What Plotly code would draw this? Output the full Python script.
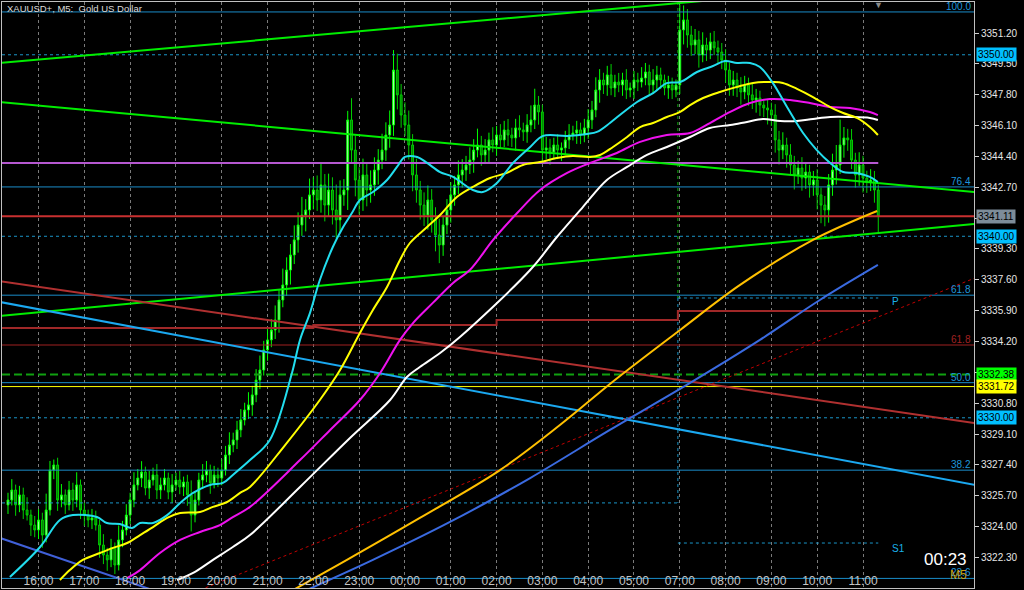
import plotly.graph_objects as go

# ---------------- data ----------------
hour_bars = [8, 20, 32, 44, 56, 68, 80, 92, 104, 116, 128, 140, 152, 164, 176, 188, 200, 212, 224]
hour_labels = ["16:00", "17:00", "18:00", "19:00", "20:00", "21:00", "22:00", "23:00", "00:00",
               "01:00", "02:00", "03:00", "04:00", "05:00", "07:00", "08:00", "09:00", "10:00", "11:00"]

price_ticks = [3351.20, 3349.50, 3347.80, 3346.10, 3344.40, 3342.70, 3341.00, 3339.30, 3337.60,
               3335.90, 3334.20, 3332.50, 3330.80, 3329.10, 3327.40, 3325.70, 3324.00, 3322.30]
hidden_ticks = [3341.00, 3332.50]  # covered by price boxes in the reference

first_open = 3325.20
close = [
    3325.47, 3326.02, 3325.20, 3325.75, 3324.92, 3324.64, 3324.09, 3323.82, 3324.37, 3323.54,
    3324.92, 3327.12, 3327.40, 3325.47, 3325.75, 3325.20, 3326.02, 3325.47, 3326.30, 3324.92,
    3324.64, 3324.37, 3324.48, 3324.09, 3322.99, 3322.44, 3322.17, 3322.83, 3321.89, 3323.27,
    3323.82, 3324.64, 3325.47, 3326.30, 3326.68, 3327.01, 3326.13, 3326.57, 3326.85, 3326.02,
    3326.30, 3326.68, 3325.91, 3326.30, 3326.57, 3326.19, 3326.46, 3325.75, 3324.64, 3325.47,
    3326.57, 3326.85, 3327.12, 3326.41, 3326.85, 3326.68, 3327.12, 3327.95, 3328.50, 3328.78,
    3329.33, 3329.88, 3330.43, 3330.71, 3331.26, 3332.08, 3332.63, 3333.74, 3334.29, 3334.84,
    3335.39, 3336.49, 3337.32, 3338.14, 3338.97, 3339.80, 3340.62, 3341.17, 3341.45, 3342.28,
    3342.55, 3342.00, 3342.83, 3341.72, 3342.55, 3341.45, 3340.90, 3342.28, 3342.55, 3346.41,
    3344.75, 3343.10, 3342.00, 3343.38, 3342.55, 3342.83, 3343.65, 3344.20, 3344.75, 3345.58,
    3346.13, 3349.16, 3347.79, 3346.68, 3346.13, 3345.03, 3343.38, 3342.55, 3341.72, 3341.17,
    3342.00, 3340.90, 3340.07, 3339.52, 3340.62, 3341.45, 3342.28, 3342.83, 3343.38, 3343.65,
    3343.93, 3344.20, 3344.75, 3345.03, 3344.48, 3344.75, 3345.31, 3345.03, 3345.58, 3345.31,
    3345.86, 3345.58, 3345.42, 3345.97, 3345.86, 3345.75, 3346.13, 3346.41, 3347.23, 3346.85,
    3344.75, 3344.87, 3344.64, 3345.03, 3344.75, 3344.87, 3345.31, 3345.58, 3345.69, 3345.86,
    3345.58, 3345.97, 3346.41, 3346.96, 3348.06, 3348.61, 3348.34, 3348.89, 3348.17, 3348.50,
    3348.34, 3348.61, 3348.06, 3348.17, 3348.61, 3348.50, 3348.72, 3349.05, 3348.34, 3348.61,
    3348.89, 3348.61, 3348.17, 3348.34, 3348.06, 3348.34, 3351.37, 3351.92, 3351.09, 3350.54,
    3350.82, 3349.99, 3350.54, 3350.26, 3350.71, 3350.38, 3350.15, 3349.71, 3349.16, 3348.34,
    3348.61, 3348.17, 3347.95, 3348.34, 3347.79, 3347.51, 3347.62, 3347.23, 3347.07, 3346.96,
    3346.68, 3345.31, 3344.75, 3345.03, 3344.48, 3343.93, 3343.38, 3343.76, 3343.21, 3343.54,
    3342.83, 3343.10, 3342.28, 3341.72, 3341.45, 3342.83, 3343.65, 3343.93, 3345.03, 3345.42,
    3345.31, 3344.20, 3343.38, 3343.93, 3343.21, 3342.99, 3343.10, 3342.55, 3341.11,
]
wick_up = [
    0.4, 0.6, 0.3, 0.5, 0.4, 0.7, 0.3, 0.5, 0.6, 0.4,
    0.9, 0.5, 0.3, 0.4, 0.6, 0.3, 0.5, 0.4, 0.7, 0.3,
    0.4, 0.3, 0.5, 0.4, 0.3, 0.6, 0.4, 0.5, 0.3, 0.8,
    0.5, 0.6, 0.4, 0.7, 0.5, 0.6, 0.3, 0.5, 0.4, 0.6,
    0.4, 0.5, 0.3, 0.6, 0.4, 0.5, 0.3, 0.4, 0.8, 0.5,
    0.4, 0.6, 0.5, 0.3, 0.5, 0.4, 0.6, 0.5, 0.7, 0.4,
    0.5, 0.6, 0.4, 0.7, 0.5, 0.6, 0.8, 0.5, 0.7, 0.6,
    0.8, 0.6, 0.9, 0.7, 0.6, 0.8, 0.7, 1.0, 0.6, 0.9,
    0.7, 0.8, 1.2, 0.6, 0.9, 0.7, 1.4, 0.8, 0.6, 0.5,
    1.2, 0.8, 0.7, 0.9, 0.6, 0.8, 0.7, 0.6, 0.9, 0.7,
    0.8, 1.1, 0.9, 0.6, 0.7, 0.8, 0.6, 0.9, 0.5, 0.7,
    0.8, 0.6, 0.7, 0.9, 0.5, 0.6, 0.7, 0.5, 0.8, 0.6,
    0.5, 0.7, 0.6, 0.9, 0.5, 0.6, 0.4, 0.7, 0.5, 0.6,
    0.5, 0.6, 0.4, 0.5, 0.7, 0.4, 0.6, 0.8, 0.9, 0.5,
    0.4, 0.6, 0.5, 0.4, 0.6, 0.3, 0.5, 0.6, 0.4, 0.5,
    0.4, 0.5, 0.6, 0.5, 0.7, 0.6, 0.4, 0.5, 0.6, 0.4,
    0.5, 0.4, 0.6, 0.3, 0.5, 0.4, 0.6, 0.5, 0.4, 0.6,
    0.5, 0.4, 0.3, 0.5, 0.4, 0.3, 1.4, 0.8, 0.6, 0.5,
    0.6, 0.5, 0.7, 0.4, 0.5, 0.6, 0.4, 0.5, 0.6, 0.4,
    0.5, 0.4, 0.6, 0.5, 0.4, 0.6, 0.5, 0.4, 0.3, 0.5,
    0.4, 0.6, 0.5, 0.7, 0.4, 0.6, 0.5, 0.4, 0.6, 0.5,
    0.4, 0.5, 0.6, 0.4, 0.5, 0.6, 0.9, 1.1, 1.4, 0.6,
    0.5, 0.6, 0.4, 0.7, 0.5, 0.4, 0.6, 0.5, 0.3,
]
wick_dn = [
    0.5, 0.3, 0.6, 0.4, 0.5, 0.3, 0.6, 0.4, 0.5, 0.7,
    0.4, 0.3, 0.5, 0.6, 0.4, 0.5, 0.3, 0.6, 0.4, 0.5,
    0.6, 0.4, 0.5, 0.3, 0.7, 0.5, 0.6, 0.4, 0.5, 0.3,
    0.4, 0.3, 0.5, 0.4, 0.3, 0.5, 0.4, 0.6, 0.3, 0.5,
    0.5, 0.3, 0.4, 0.6, 0.3, 0.4, 0.5, 0.6, 0.9, 0.4,
    0.3, 0.5, 0.4, 0.6, 0.3, 0.5, 0.4, 0.3, 0.5, 0.4,
    0.5, 0.4, 0.3, 0.5, 0.6, 0.4, 0.5, 0.3, 0.6, 0.4,
    0.5, 0.7, 0.4, 0.6, 0.8, 0.5, 0.7, 0.6, 0.9, 0.5,
    0.8, 0.6, 0.7, 0.9, 0.6, 0.8, 1.0, 0.7, 0.6, 1.1,
    0.7, 0.9, 0.8, 0.6, 0.9, 0.7, 0.6, 0.8, 0.5, 0.6,
    0.7, 0.6, 0.8, 0.7, 0.6, 0.8, 0.9, 0.7, 0.8, 0.6,
    0.8, 0.7, 0.9, 1.0, 0.6, 0.5, 0.7, 0.6, 0.5, 0.7,
    0.6, 0.5, 0.7, 0.4, 0.6, 0.5, 0.7, 0.4, 0.6, 0.5,
    0.4, 0.6, 0.5, 0.7, 0.4, 0.5, 0.6, 0.4, 0.5, 0.7,
    0.6, 0.5, 0.7, 0.4, 0.5, 0.6, 0.4, 0.5, 0.3, 0.6,
    0.5, 0.4, 0.6, 0.5, 0.4, 0.7, 0.5, 0.6, 0.4, 0.5,
    0.4, 0.6, 0.5, 0.4, 0.6, 0.5, 0.3, 0.4, 0.6, 0.5,
    0.6, 0.5, 0.4, 0.6, 0.5, 0.4, 0.5, 0.8, 0.7, 0.6,
    0.5, 0.7, 0.4, 0.6, 0.5, 0.4, 0.6, 0.5, 0.7, 0.6,
    0.6, 0.5, 0.7, 0.4, 0.6, 0.5, 0.7, 0.6, 0.5, 0.8,
    0.6, 0.7, 0.8, 0.5, 0.7, 0.6, 0.8, 0.5, 0.7, 0.6,
    0.7, 0.6, 0.8, 1.0, 0.9, 0.7, 0.6, 0.8, 0.5, 0.7,
    0.6, 0.5, 0.7, 0.6, 0.8, 0.6, 0.5, 0.7, 0.9,
]

# moving averages (bar index, price)
ma_cyan_bar = [0.5, 8.4, 13.6, 17.0, 23.3, 25.9, 29.3, 32.5, 34.6, 38.0, 41.7, 45.1, 48.5, 52.9, 56.3,
               58.9, 63.4, 68.6, 74.4, 76.5, 79.1, 81.7, 85.1, 87.8, 90.1, 92.2, 95.6, 99.3, 101.9,
               104.0, 107.2, 109.8, 113.2, 116.6, 121.8, 124.4, 128.1, 132.3, 136.8, 140.2, 146.5,
               151.7, 154.3, 157.7, 160.3, 164.8, 169.0, 172.6, 176.1, 180.5, 184.7, 187.8, 191.0,
               194.4, 197.0, 200.4, 204.1, 208.3, 211.9, 215.4, 218.8, 222.4, 225.8, 227.9]
ma_cyan_val = [3321.23, 3322.88, 3324.37, 3324.64, 3324.53, 3324.20, 3324.15, 3323.93, 3324.20, 3324.20,
               3324.64, 3325.31, 3325.86, 3326.30, 3326.41, 3326.85, 3327.67, 3328.78, 3332.47, 3334.29,
               3335.77, 3337.59, 3339.41, 3340.51, 3341.28, 3342.00, 3342.44, 3343.10, 3343.82, 3344.37,
               3344.37, 3344.04, 3343.54, 3343.27, 3342.55, 3342.44, 3342.94, 3344.04, 3344.92, 3345.53,
               3345.53, 3345.64, 3345.75, 3346.24, 3346.68, 3347.40, 3347.89, 3348.44, 3348.50, 3349.05,
               3349.38, 3349.66, 3349.55, 3349.55, 3349.33, 3348.44, 3347.12, 3345.69, 3344.75, 3344.04,
               3343.54, 3343.49, 3343.27, 3342.99]

ma_yellow_bar = [13.6, 16.2, 19.6, 24.1, 27.5, 31.2, 34.6, 38.0, 41.7, 45.1, 50.3, 53.7, 57.4, 60.8, 63.4,
                 72.6, 81.7, 87.0, 92.2, 95.6, 99.3, 102.7, 105.3, 109.8, 113.2, 117.6, 121.8, 126.3,
                 130.7, 134.9, 139.4, 143.8, 148.0, 152.5, 155.1, 158.5, 162.2, 165.6, 169.0, 172.6,
                 176.1, 178.7, 182.1, 186.5, 191.0, 195.2, 200.4, 203.0, 206.7, 210.9, 215.4, 218.8,
                 222.4, 225.8, 227.9]
ma_yellow_val = [3321.06, 3321.61, 3322.17, 3322.55, 3322.83, 3323.10, 3323.54, 3323.98, 3324.48, 3324.75,
                 3324.81, 3325.09, 3325.36, 3325.86, 3326.19, 3328.50, 3330.98, 3332.63, 3334.67, 3335.94,
                 3337.21, 3338.69, 3339.63, 3340.51, 3341.17, 3342.17, 3342.72, 3343.21, 3343.49, 3343.93,
                 3344.09, 3344.31, 3344.42, 3344.37, 3344.48, 3344.92, 3345.47, 3346.02, 3346.24, 3346.57,
                 3346.85, 3347.23, 3347.62, 3347.95, 3348.23, 3348.45, 3348.50, 3348.45, 3348.12, 3347.67,
                 3347.12, 3346.79, 3346.52, 3346.02, 3345.58]

ma_magenta_bar = [31.2, 34.6, 39.8, 45.1, 50.3, 55.5, 58.9, 63.4, 76.5, 84.4, 92.2, 97.5, 102.7, 106.1,
                  111.3, 116.6, 121.0, 127.1, 133.4, 139.4, 146.5, 152.5, 159.5, 165.6, 172.6, 178.7,
                  183.9, 189.2, 194.4, 199.6, 204.9, 210.1, 215.4, 220.6, 225.8, 227.9]
ma_magenta_val = [3321.17, 3321.61, 3322.55, 3323.27, 3323.71, 3324.09, 3324.53, 3325.09, 3327.67, 3329.33,
                  3330.98, 3332.47, 3334.29, 3335.22, 3336.33, 3337.43, 3338.14, 3339.80, 3341.28, 3342.55,
                  3343.49, 3344.04, 3344.59, 3345.20, 3345.58, 3345.69, 3346.24, 3346.85, 3347.34, 3347.56,
                  3347.51, 3347.34, 3347.12, 3347.07, 3346.85, 3346.68]

ma_white_bar = [44.3, 48.5, 53.7, 58.9, 63.4, 76.5, 89.6, 100.1, 104.5, 107.9, 113.2, 118.4, 136.8, 143.8,
                150.6, 156.9, 162.2, 167.4, 172.6, 178.7, 183.9, 189.2, 193.6, 197.8, 202.3, 206.7, 210.9,
                215.4, 220.6, 225.8, 227.9]
ma_white_val = [3321.06, 3321.45, 3322.17, 3322.88, 3323.54, 3326.19, 3328.89, 3330.98, 3332.25, 3332.80,
                3333.57, 3334.45, 3338.14, 3339.96, 3341.61, 3343.10, 3343.82, 3344.48, 3344.92, 3345.47,
                3345.97, 3346.13, 3346.30, 3346.46, 3346.35, 3346.35, 3346.46, 3346.57, 3346.57, 3346.52,
                3346.41]

ma_gold_bar = [74.7, 88.8, 107.9, 128.9, 144.6, 159.0, 176.1, 191.8, 210.9, 227.7]
ma_gold_val = [3320.51, 3322.17, 3324.48, 3327.12, 3329.60, 3332.08, 3334.84, 3337.32, 3339.80, 3341.39]

ma_blue_bar = [78.3, 95.6, 115.8, 136.8, 157.7, 178.7, 197.0, 212.7, 227.9]
ma_blue_val = [3320.51, 3322.17, 3324.26, 3326.68, 3329.33, 3331.92, 3334.29, 3336.49, 3338.42]

# trend lines: (bar0, price0, bar1, price1)
tl_green_top = [-2.0, 3349.55, 200.0, 3353.30]
tl_green_down = [-2.1, 3347.40, 253.3, 3342.44]
tl_green_up = [-2.1, 3335.61, 253.3, 3340.68]
tl_skyblue = [-2.1, 3336.38, 253.3, 3326.30]
tl_red = [-2.1, 3337.53, 253.3, 3329.71]
tl_royal = [-2.1, 3323.38, 45.0, 3320.00]
tl_red_dot = [50.3, 3320.51, 253.3, 3337.70]

# Fibonacci retracement
fib_high = 3352.36
fib_low = 3311.51
fib_levels = [100.0, 76.4, 61.8, 50.0, 38.2, 23.6]
red_fib_price = 3334.01

# horizontal levels
round_levels = [3350.00, 3340.00, 3330.00]
violet_level = 3344.04
bid_level = 3341.11
green_level = 3332.38
yellow_level = 3331.72
prev_pivot_level = 3325.31
pivot_p = 3336.60
pivot_s1 = 3323.10
step_bar = [-2.0, 80.0, 128.0, 175.5, 228.0]
step_val = [3334.95, 3335.11, 3335.39, 3335.88, 3335.88]
sep_bar = 175.5
sep_split = 3336.60
clock_text = "00:23"

# ---------------- figure ----------------
open_ = [first_open] + close[:-1]
high = [max(o, c) + w for o, c, w in zip(open_, close, wick_up)]
low = [min(o, c) - w for o, c, w in zip(open_, close, wick_dn)]
bars = list(range(len(close)))

X0, X1 = -1.57, 253.08
Y0, Y1 = 3320.622, 3352.908
FONT = "Liberation Sans Narrow, Liberation Sans, Arial, sans-serif"

fig = go.Figure()


def seg(xs, ys, color, width=1, dash="solid", shape="linear"):
    fig.add_trace(go.Scatter(x=xs, y=ys, mode="lines", hoverinfo="skip", showlegend=False,
                             line=dict(color=color, width=width, dash=dash, shape=shape)))


# full-width horizontal levels (below candles)
for lv in fib_levels:
    p = fib_low + (fib_high - fib_low) * lv / 100.0
    seg([X0, X1], [p, p], "#1a8cc8", 1)
seg([X0, X1], [red_fib_price, red_fib_price], "#a02020", 1)
for lv in round_levels:
    seg([X0, X1], [lv, lv], "#1a95c8", 1, "3px,3px")
seg([X0, sep_bar], [prev_pivot_level, prev_pivot_level], "#1a95c8", 1, "3px,3px")
seg([sep_bar, 228], [pivot_p, pivot_p], "#1a95c8", 1, "3px,3px")
seg([sep_bar, 228], [pivot_s1, pivot_s1], "#1a95c8", 1, "3px,3px")
seg([sep_bar, sep_bar], [Y1, sep_split], "#10b010", 1, "3px,3px")
seg([sep_bar, sep_bar], [sep_split, prev_pivot_level], "#1a95c8", 1, "3px,3px")
seg([X0, X1], [green_level, green_level], "#10a010", 2, "8px,4px")
seg([X0, X1], [yellow_level, yellow_level], "#ffff00", 1)
seg(step_bar, step_val, "#a02828", 2, shape="hv")

# candles
fig.add_trace(go.Candlestick(
    x=bars, open=open_, high=high, low=low, close=close, whiskerwidth=0,
    increasing=dict(line=dict(color="#00ff00", width=1), fillcolor="#b8ffb8"),
    decreasing=dict(line=dict(color="#00d000", width=1), fillcolor="#007a00"),
    hoverinfo="skip", showlegend=False))

# lines over candles
seg([X0, 228], [violet_level, violet_level], "#b558d0", 2)
seg([X0, X1], [bid_level, bid_level], "#c83030", 2)
for tl, col, w, d in [(tl_green_top, "#00ee00", 2, "solid"), (tl_green_down, "#00ee00", 2, "solid"),
                      (tl_green_up, "#00ee00", 2, "solid"), (tl_skyblue, "#1ba8f0", 2, "solid"),
                      (tl_red, "#b03030", 2, "solid"), (tl_royal, "#4060d8", 2, "solid"),
                      (tl_red_dot, "#c00000", 1, "3px,3px")]:
    seg([tl[0], tl[2]], [tl[1], tl[3]], col, w, d)

for xs, ys, col in [(ma_blue_bar, ma_blue_val, "#3a6ae0"), (ma_gold_bar, ma_gold_val, "#ffc000"),
                    (ma_white_bar, ma_white_val, "#ffffff"), (ma_magenta_bar, ma_magenta_val, "#ee11ee"),
                    (ma_yellow_bar, ma_yellow_val, "#ffff00"), (ma_cyan_bar, ma_cyan_val, "#22ddee")]:
    seg(xs, ys, col, 2, shape="spline")

ann = []
# title
ann.append(dict(text="XAUUSD+, M5:  Gold US Dollar", xref="paper", yref="paper", x=0, y=1,
                xanchor="left", yanchor="top", xshift=3, yshift=1, showarrow=False,
                font=dict(family=FONT, size=9.5, color="#dcdcdc")))
# fib labels
for lv in fib_levels:
    p = fib_low + (fib_high - fib_low) * lv / 100.0
    ann.append(dict(text=f"{lv:.1f}", xref="paper", yref="y", x=1, y=p, xanchor="right",
                    yanchor="bottom", xshift=-1, yshift=-2, showarrow=False,
                    font=dict(family=FONT, size=10, color="#1e96dc")))
ann.append(dict(text="61.8", xref="paper", yref="y", x=1, y=red_fib_price, xanchor="right",
                yanchor="bottom", xshift=-1, yshift=-2, showarrow=False,
                font=dict(family=FONT, size=10, color="#a02020")))
# price boxes on the axis
boxes = [(3350.00, "#00bfff"), (bid_level, "#7d8c99"), (3340.00, "#00bfff"),
         (green_level, "#00ff00"), (yellow_level, "#ffff00"), (3330.00, "#00bfff")]
for p, bg in boxes:
    ann.append(dict(text=f"{p:.2f}", xref="paper", yref="y", x=1, y=p, xanchor="left",
                    yanchor="middle", xshift=2, showarrow=False, bgcolor=bg, borderpad=1,
                    font=dict(family=FONT, size=10, color="#000000")))
ann.append(dict(text="P", x=232.4, y=pivot_p - 0.2, showarrow=False,
                font=dict(family=FONT, size=10, color="#1ab0e8")))
ann.append(dict(text="S1", x=233.2, y=pivot_s1 - 0.3, showarrow=False,
                font=dict(family=FONT, size=10, color="#1ab0e8")))
ann.append(dict(text="▼", x=228, y=Y1 - 0.15, showarrow=False,
                font=dict(family=FONT, size=9, color="#8a8a8a")))
ann.append(dict(text=clock_text, xref="paper", yref="y", x=1, y=3322.22, xanchor="right",
                yanchor="middle", xshift=-5, showarrow=False,
                font=dict(family=FONT, size=17, color="#ffffff")))
ann.append(dict(text="M5", xref="paper", yref="y", x=1, y=3321.34, xanchor="right",
                yanchor="middle", xshift=-5, showarrow=False,
                font=dict(family=FONT, size=12, color="#c8a010")))

fig.update_layout(
    width=1024, height=590, template="none",
    paper_bgcolor="#000000", plot_bgcolor="#000000",
    margin=dict(l=2, r=50, t=2, b=2, autoexpand=False),
    showlegend=False, annotations=ann,
    xaxis=dict(range=[X0, X1], tickmode="array", tickvals=hour_bars, ticktext=hour_labels,
               showgrid=True, gridcolor="#7a7a7a", griddash="3px,3px", gridwidth=1,
               zeroline=False, ticks="", ticklabelposition="inside",
               tickfont=dict(family=FONT, size=12, color="#c4c4c4"),
               showline=True, linecolor="#c0c0c0", linewidth=1, mirror=True,
               rangeslider=dict(visible=False), automargin=False, fixedrange=True),
    yaxis=dict(range=[Y0, Y1], side="right", tickmode="array", tickvals=price_ticks,
               ticktext=["" if v in hidden_ticks else f"{v:.2f}" for v in price_ticks],
               ticks="outside", ticklen=4,
               tickcolor="#d0d0d0", showgrid=False, zeroline=False,
               showline=True, linecolor="#c0c0c0", linewidth=1, mirror=True,
               tickfont=dict(family=FONT, size=10, color="#e6e6e6"), automargin=False,
               fixedrange=True),
)

fig.write_html("out.html", config={"displayModeBar": False},
               post_script="document.body.style.margin='0';document.body.style.overflow='hidden';"
                           "document.body.style.background='#000';")
